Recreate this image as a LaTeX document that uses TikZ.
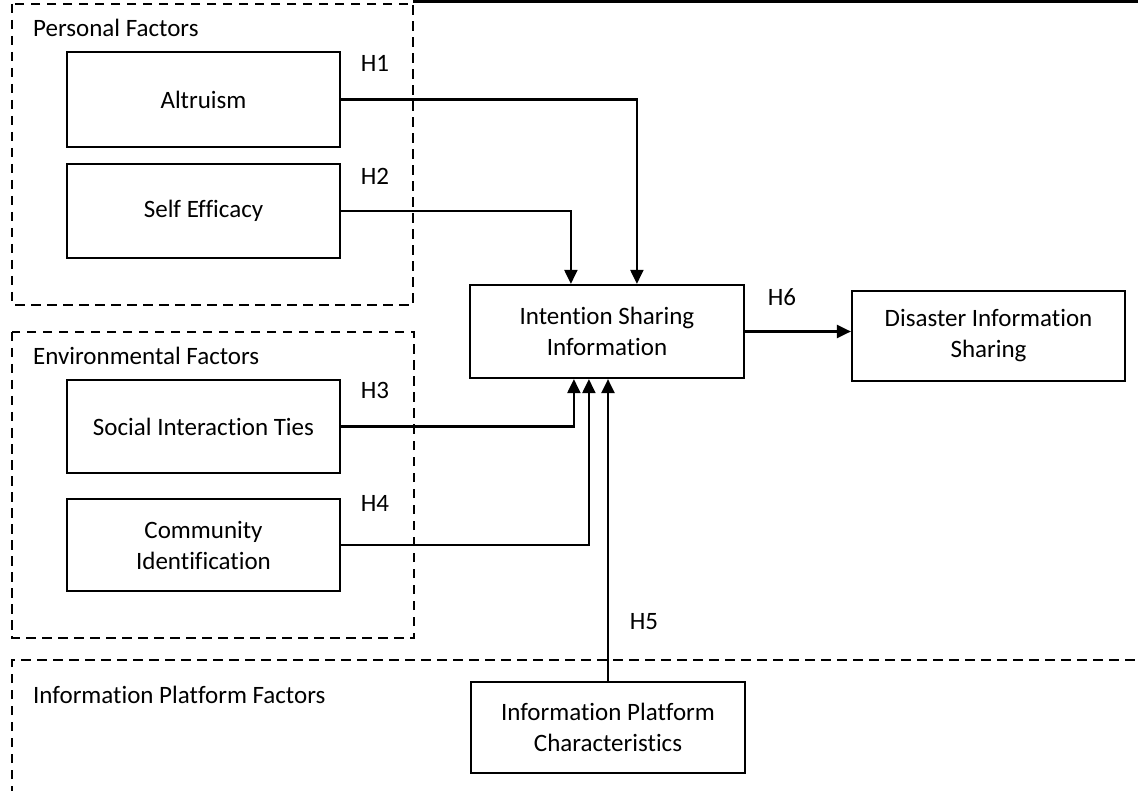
\documentclass[tikz,border=0pt]{standalone}
\usepackage{fontspec}
\setmainfont{Carlito}[Ligatures={NoCommon}]
\usetikzlibrary{arrows.meta}
\begin{document}
\begin{tikzpicture}[x=1pt,y=-1pt,
  factor/.style={draw, line width=2.2pt, minimum width=273pt, minimum height=93pt,
    align=center, inner sep=0pt, font=\fontsize{25}{31}\selectfont},
  groupframe/.style={line width=2.2pt, dash pattern=on 9.5pt off 6.5pt},
  link/.style={line width=2.2pt, -{Triangle[length=14pt,width=13pt]}},
  hyp/.style={inner sep=0pt, font=\fontsize{25}{30}\selectfont},
  grouplabel/.style={anchor=base west, inner sep=0pt, font=\fontsize{25}{30}\selectfont}]
\useasboundingbox (0,0) rectangle (1138,791);

% top rule
\draw[line width=3pt] (413,1.5) -- (1138,1.5);

% group frames
\draw[groupframe] (12,4) rectangle (413,305);
\draw[groupframe] (12,332) rectangle (414,638);
\draw[groupframe] (12,795) -- (12,660) -- (1140,660);

\node[grouplabel] (gpers) at (33,37) {Personal Factors};
\node[grouplabel] (genv)  at (33,365) {Environmental Factors};
\node[grouplabel] (ginfo) at (33,703) {Information Platform Factors};

% constructs
\node[factor, minimum height=95pt] (alt)  at (203.5,99.5) {Altruism};
\node[factor, minimum height=94pt] (self) at (203.5,211) {Self Efficacy};
\node[factor] (soc)  at (203.5,426.5) {Social Interaction Ties};
\node[factor, minimum height=92pt] (comm) at (203.5,545) {Community\\Identification};
\node[factor, minimum width=274pt] (isi) at (607,331.5) {Intention Sharing\\Information};
\node[factor, minimum height=90pt] (dis) at (988.5,336) {Disaster Information\\Sharing};
\node[factor, minimum width=274pt, minimum height=91pt] (ipc) at (608,727.5) {Information Platform\\Characteristics};

% hypotheses
\draw[link] (alt.east)  -| ([xshift=168pt]isi.north west);
\draw[link] (self.east) -| ([xshift=102pt]isi.north west);
\draw[link] (soc.east)  -| ([xshift=105pt]isi.south west);
\draw[link] (comm.east) -| ([xshift=120pt]isi.south west);
\draw[link] (ipc.north) -- (ipc.north |- isi.south);
\draw[link] (isi.east)  -- (isi.east -| dis.west);

\node[hyp] (h1) at (375,63)  {H1};
\node[hyp] (h2) at (375,176) {H2};
\node[hyp] (h3) at (375,390) {H3};
\node[hyp] (h4) at (375,503) {H4};
\node[hyp] (h5) at (644,622) {H5};
\node[hyp] (h6) at (782,297) {H6};
\end{tikzpicture}
\end{document}
